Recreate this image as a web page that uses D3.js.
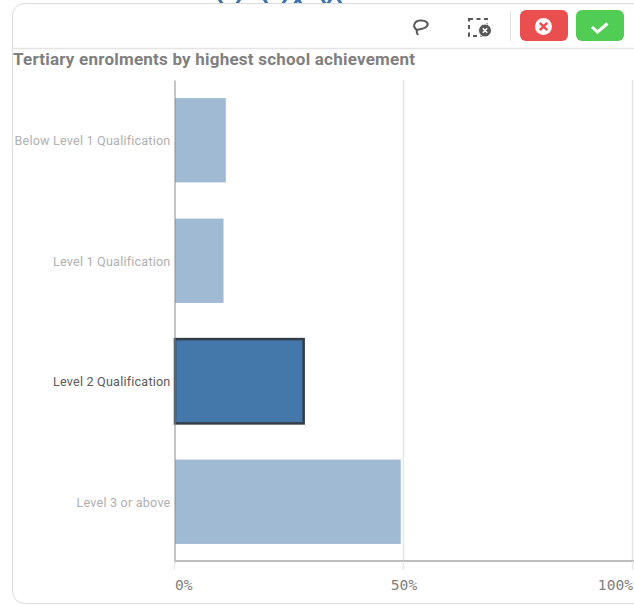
<!DOCTYPE html>
<html><head><meta charset="utf-8">
<script src="https://cdn.jsdelivr.net/npm/d3@7"></script>
<style>html,body{margin:0;padding:0;background:#fff;overflow:hidden}svg{display:block}</style>
</head><body><svg id="c" width="634" height="605"></svg>
<script>
const categories=["Below Level 1 Qualification","Level 1 Qualification","Level 2 Qualification","Level 3 or above"];
const values=[11.2,10.7,28.2,49.4];
const selected=["Level 2 Qualification"];
const xTicks=[0,50,100];
const title="Tertiary enrolments by highest school achievement";

const svg=d3.select("#c");
const x=d3.scaleLinear().domain([0,100]).range([174.5,632.5]);
const y=d3.scaleBand().domain(categories).range([80,562]).paddingInner(0.3).paddingOuter(0.15);

// blue remnants of the sheet behind the card
const behind=svg.append("g").attr("fill","none").attr("stroke","#3f74a8").attr("stroke-width",3);
[[219,223],[240,236],[264,268],[286,282],[298,294],[298,302],[322,326],[331,327],[338,342]].forEach(([a,b])=>{
  behind.append("path").attr("d",`M${a} -1L${b} 5`);
});

// card
svg.append("rect").attr("x",12.5).attr("y",3.5).attr("width",640).attr("height",600).attr("rx",12)
  .attr("fill","#fff").attr("stroke","#dcdcdc");
svg.append("line").attr("x1",13).attr("x2",634).attr("y1",48.5).attr("y2",48.5).attr("stroke","#e4e4e4").attr("stroke-width",1.5);

// toolbar
const lasso=svg.append("g").attr("fill","none").attr("stroke","#595959").attr("stroke-width",2);
lasso.append("path").attr("d","M417 30C412 27 414 21 420 20.5C426 20 429 23 427 26C425 29 420 29 417 30C416 32 417 33.5 418 35");
const clr=svg.append("g");
clr.append("rect").attr("x",469).attr("y",19).attr("width",18).attr("height",17).attr("fill","none").attr("stroke","#595959").attr("stroke-width",2).attr("stroke-dasharray","4 3.5");
clr.append("circle").attr("cx",485).attr("cy",30.5).attr("r",6.5).attr("fill","#595959").attr("stroke","#fff");
clr.append("path").attr("d","M482.8 28.3l4.4 4.4m0 -4.4l-4.4 4.4").attr("stroke","#fff").attr("stroke-width",1.5);
svg.append("line").attr("x1",510.5).attr("x2",510.5).attr("y1",11).attr("y2",41).attr("stroke","#e0e0e0");
svg.append("rect").attr("x",520).attr("y",10).attr("width",48).attr("height",31).attr("rx",6).attr("fill","#ea4f50");
svg.append("circle").attr("cx",543.5).attr("cy",26.5).attr("r",8.5).attr("fill","#fff");
svg.append("path").attr("d","M539.8 22.8l7.4 7.4m0 -7.4l-7.4 7.4").attr("stroke","#ea4f50").attr("stroke-width",2.4);
svg.append("rect").attr("x",576).attr("y",10).attr("width",48).attr("height",31).attr("rx",6).attr("fill","#51cc55");
svg.append("path").attr("d","M592 27l5.5 5l10 -8.5").attr("fill","none").attr("stroke","#fff").attr("stroke-width",3);

svg.append("text").attr("x",13).attr("y",65).attr("fill","#7f7f7f").attr("font-size",17).attr("font-weight",700)
  .style("font-family","Roboto,sans-serif").style("letter-spacing","0.22px").text(title);

// gridline, axes
svg.selectAll(".grid").data(xTicks.slice(1)).join("line").attr("class","grid")
  .attr("x1",d=>x(d)).attr("x2",d=>x(d)).attr("y1",80).attr("y2",570).attr("stroke","#e6e6e6").attr("stroke-width",1.5);

svg.selectAll(".bar").data(categories).join("rect").attr("class","bar")
  .attr("x",x(0)+0.5).attr("y",d=>y(d))
  .attr("width",(d,i)=>x(values[i])-x(0)-0.5)
  .attr("height",y.bandwidth())
  .attr("fill",d=>selected.includes(d)?"#4477aa":"#a1bad3")
  .attr("stroke",d=>selected.includes(d)?"#333d47":"none")
  .attr("stroke-width",d=>selected.includes(d)?2.5:0);

const ya=svg.append("g").attr("transform",`translate(${x(0)},0)`).call(d3.axisLeft(y).tickSize(0).tickPadding(4));
ya.select(".domain").attr("stroke","#8c8c8c").attr("stroke-width",1);
ya.selectAll("text").attr("y",1).style("font-size","12.6px").style("letter-spacing","0.2px").style("font-family","Roboto,sans-serif")
  .attr("fill",d=>selected.includes(d)?"#595959":"#b0b0b0");

svg.append("line").attr("x1",x(0)).attr("x2",634).attr("y1",561).attr("y2",561).attr("stroke","#bdbdbd").attr("stroke-width",2);
svg.selectAll(".tk").data(xTicks).join("line").attr("class","tk")
  .attr("x1",d=>x(d)).attr("x2",d=>x(d)).attr("y1",561).attr("y2",570).attr("stroke","#e6e6e6");
svg.selectAll(".xl").data(xTicks).join("text").attr("class","xl")
  .attr("x",d=>d===0?x(d)+0.5:x(d)+0.5).attr("y",590)
  .attr("text-anchor",d=>d===0?"start":d===100?"end":"middle")
  .attr("font-size",14.6).style("font-family","'DejaVu Sans Mono',monospace").attr("fill","#808080")
  .text(d=>d+"%");
</script></body></html>
